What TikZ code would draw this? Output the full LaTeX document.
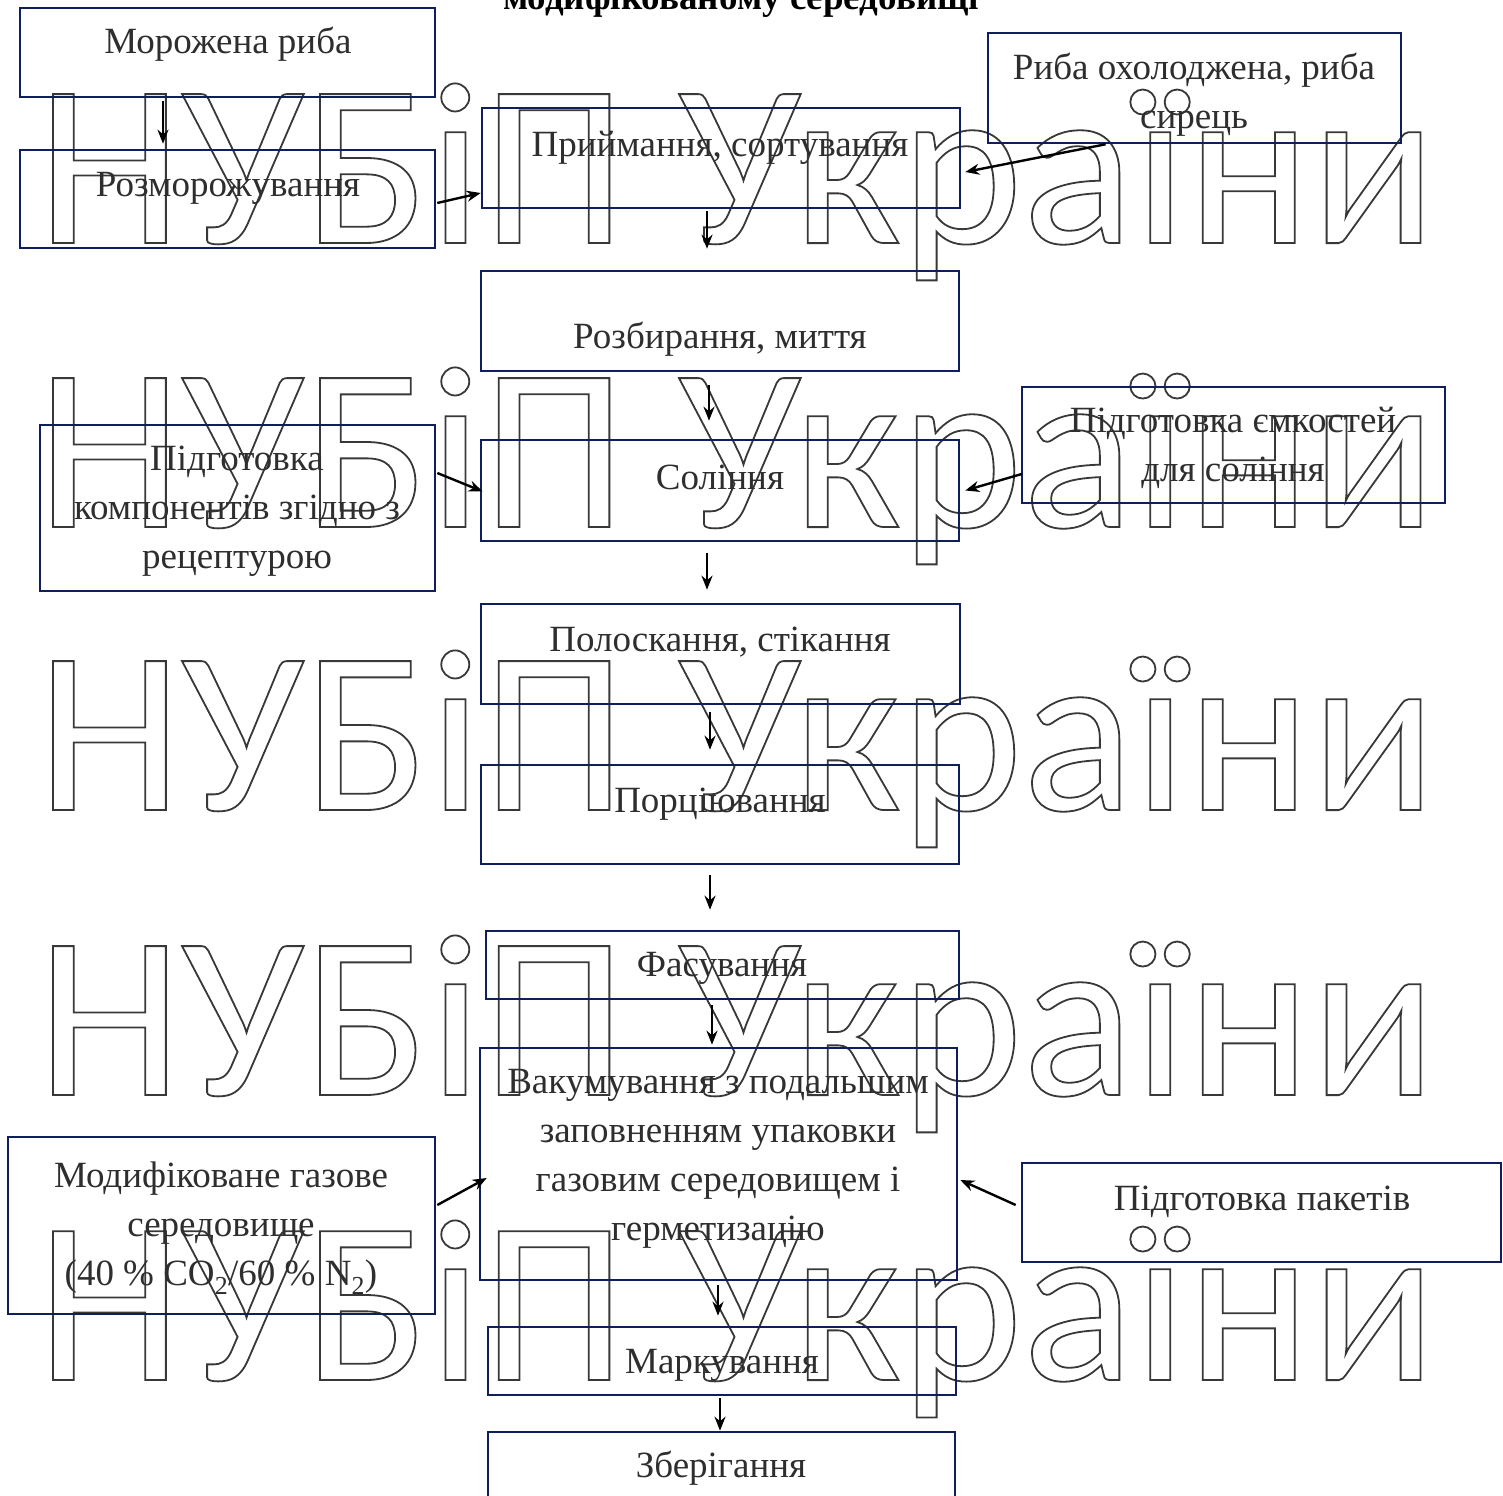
\documentclass[tikz,border=0pt]{standalone}
\usepackage{fontspec}
\setmainfont{Liberation Serif}
\newfontfamily\wmfont{Carlito}
\usetikzlibrary{arrows.meta,calc}
\newcommand\outlinetext[1]{\special{pdf:literal direct 1 Tr 1.8 w}#1\special{pdf:literal direct 0 Tr}}

\begin{document}
\begin{tikzpicture}[x=1pt,y=-1pt,
    box/.style={draw=boxline, line width=2.6pt, inner sep=0pt},
    txt/.style={text=textgrey, font=\fontsize{37}{49}\selectfont, align=center, inner sep=0pt},
    arr/.style={-{Stealth[length=14pt,width=11pt]}, line width=2.4pt},
    wm/.style={text=wmgrey, font=\wmfont\fontsize{232}{232}\selectfont, inner sep=0pt, anchor=base west}]
        % Define colors
        \definecolor{boxline}{rgb}{0.06, 0.12, 0.36} % Navy frame
        \definecolor{textgrey}{rgb}{0.18, 0.18, 0.18}
        \definecolor{wmgrey}{rgb}{0.22, 0.22, 0.22}

        % Page frame
        \useasboundingbox (0,0) rectangle (1503,1495);
        \clip (0,0) rectangle (1503,1495);

        % Watermark rows
        \foreach \yy/\nm in {243/wma,527/wmb,810/wmc,1095/wmd,1380/wme}
            \node[wm] (\nm) at (37,\yy) {\outlinetext{НУБіП України}};

        % Title (cut at top)
        \node[font=\bfseries\fontsize{37}{49}\selectfont, anchor=base, inner sep=0pt] (title) at (741,10) {модифікованому середовищі};

        % Boxes
        \node[box, minimum width=415, minimum height=89] (frozen) at (227.5,52.5) {};
        \node[box, minimum width=415, minimum height=98] (thaw) at (227.5,199) {};
        \node[box, minimum width=478, minimum height=100] (accept) at (721,158) {};
        \node[box, minimum width=413, minimum height=110] (chilled) at (1194.5,88) {};
        \node[box, minimum width=478, minimum height=100] (cut) at (720,321) {};
        \node[box, minimum width=395, minimum height=166] (comp) at (237.5,508) {};
        \node[box, minimum width=478, minimum height=101] (salt) at (720,490.5) {};
        \node[box, minimum width=423, minimum height=116] (tanks) at (1233.5,445) {};
        \node[box, minimum width=479, minimum height=100] (rinse) at (720.5,654) {};
        \node[box, minimum width=478, minimum height=99] (portion) at (720,814.5) {};
        \node[box, minimum width=473, minimum height=68] (pack) at (722.5,965) {};
        \node[box, minimum width=477, minimum height=232] (vacuum) at (718.5,1164) {};
        \node[box, minimum width=427, minimum height=177] (gas) at (221.5,1225.5) {};
        \node[box, minimum width=479, minimum height=99] (bags) at (1261.5,1212.5) {};
        \node[box, minimum width=468, minimum height=68] (label) at (722,1361) {};
        \node[box, minimum width=467, minimum height=76] (store) at (721.5,1470) {};

        % Texts
        \node[txt, anchor=base] (frozentxt) at (228,54) {Морожена риба};
        \node[txt, anchor=base] (thawtxt) at (228,197) {Розморожування};
        \node[txt, anchor=base] (accepttxt) at (720,157) {Приймання, сортування};
        \node[txt] (chilledtxt) at (1194,95) {Риба охолоджена, риба\\сирець};
        \node[txt, anchor=base] (cuttxt) at (720,348) {Розбирання, миття};
        \node[txt] (comptxt) at (237,511) {Підготовка\\компонентів згідно з\\рецептурою};
        \node[txt, anchor=base] (salttxt) at (720,489) {Соління};
        \node[txt] (tankstxt) at (1233,448) {Підготовка ємкостей\\для соління};
        \node[txt, anchor=base] (rinsetxt) at (720,651) {Полоскання, стікання};
        \node[txt, anchor=base] (portiontxt) at (720,812) {Порціювання};
        \node[txt, anchor=base] (packtxt) at (722,976) {Фасування};
        \node[txt] (vacuumtxt) at (718,1159) {Вакумування з подальшим\\заповненням упаковки\\газовим середовищем і\\герметизацію};
        \node[txt] (gastxt) at (221,1228) {Модифіковане газове\\середовище\\(40 \% CO\textsubscript{2}/60 \% N\textsubscript{2})};
        \node[txt, anchor=base] (bagstxt) at (1262,1210) {Підготовка пакетів};
        \node[txt, anchor=base] (labeltxt) at (722,1373) {Маркування};
        \node[txt, anchor=base] (storetxt) at (721,1477) {Зберігання};

        % Arrows
        \draw[arr] ($(frozen.south)+(-64.5,3)$) -- ($(thaw.north)+(-64.5,-5)$);
        \draw[arr] ($(thaw.east)+(1,4)$) -- ($(accept.west)+(0,35)$);
        \draw[arr] ($(chilled.south)+(-89,0)$) -- ($(accept.east)+(4,14)$);
        \draw[arr] ($(accept.south)+(-14,2)$) -- ($(cut.north)+(-13,-21)$);
        \draw[arr] ($(cut.south)+(-11,13)$) -- ($(salt.north)+(-11,-18)$);
        \draw[arr] ($(comp.east)+(1,-35)$) -- ($(salt.west)+(3,1)$);
        \draw[arr] ($(tanks.west)+(1,29)$) -- ($(salt.east)+(5,0)$);
        \draw[arr] ($(salt.south)+(-13,11)$) -- ($(rinse.north)+(-13.5,-13)$);
        \draw[arr] ($(rinse.south)+(-10.5,7)$) -- ($(portion.north)+(-10,-14)$);
        \draw[arr] ($(portion.south)+(-10,10)$) -- ($(pack.north)+(-12.5,-20)$);
        \draw[arr] ($(pack.south)+(-10.5,5)$) -- ($(vacuum.north)+(-6.5,-2)$);
        \draw[arr] ($(gas.east)+(1,-20.5)$) -- ($(vacuum.west)+(8,14)$);
        \draw[arr] ($(bags.west)+(-5,-7.5)$) -- ($(vacuum.east)+(2,16)$);
        \draw[arr] ($(vacuum.south)+(-0.5,4)$) -- ($(label.north)+(-4,-10)$);
        \draw[arr] ($(label.south)+(-2,2)$) -- ($(store.north)+(-1.5,0)$);
\end{tikzpicture}
\end{document}
